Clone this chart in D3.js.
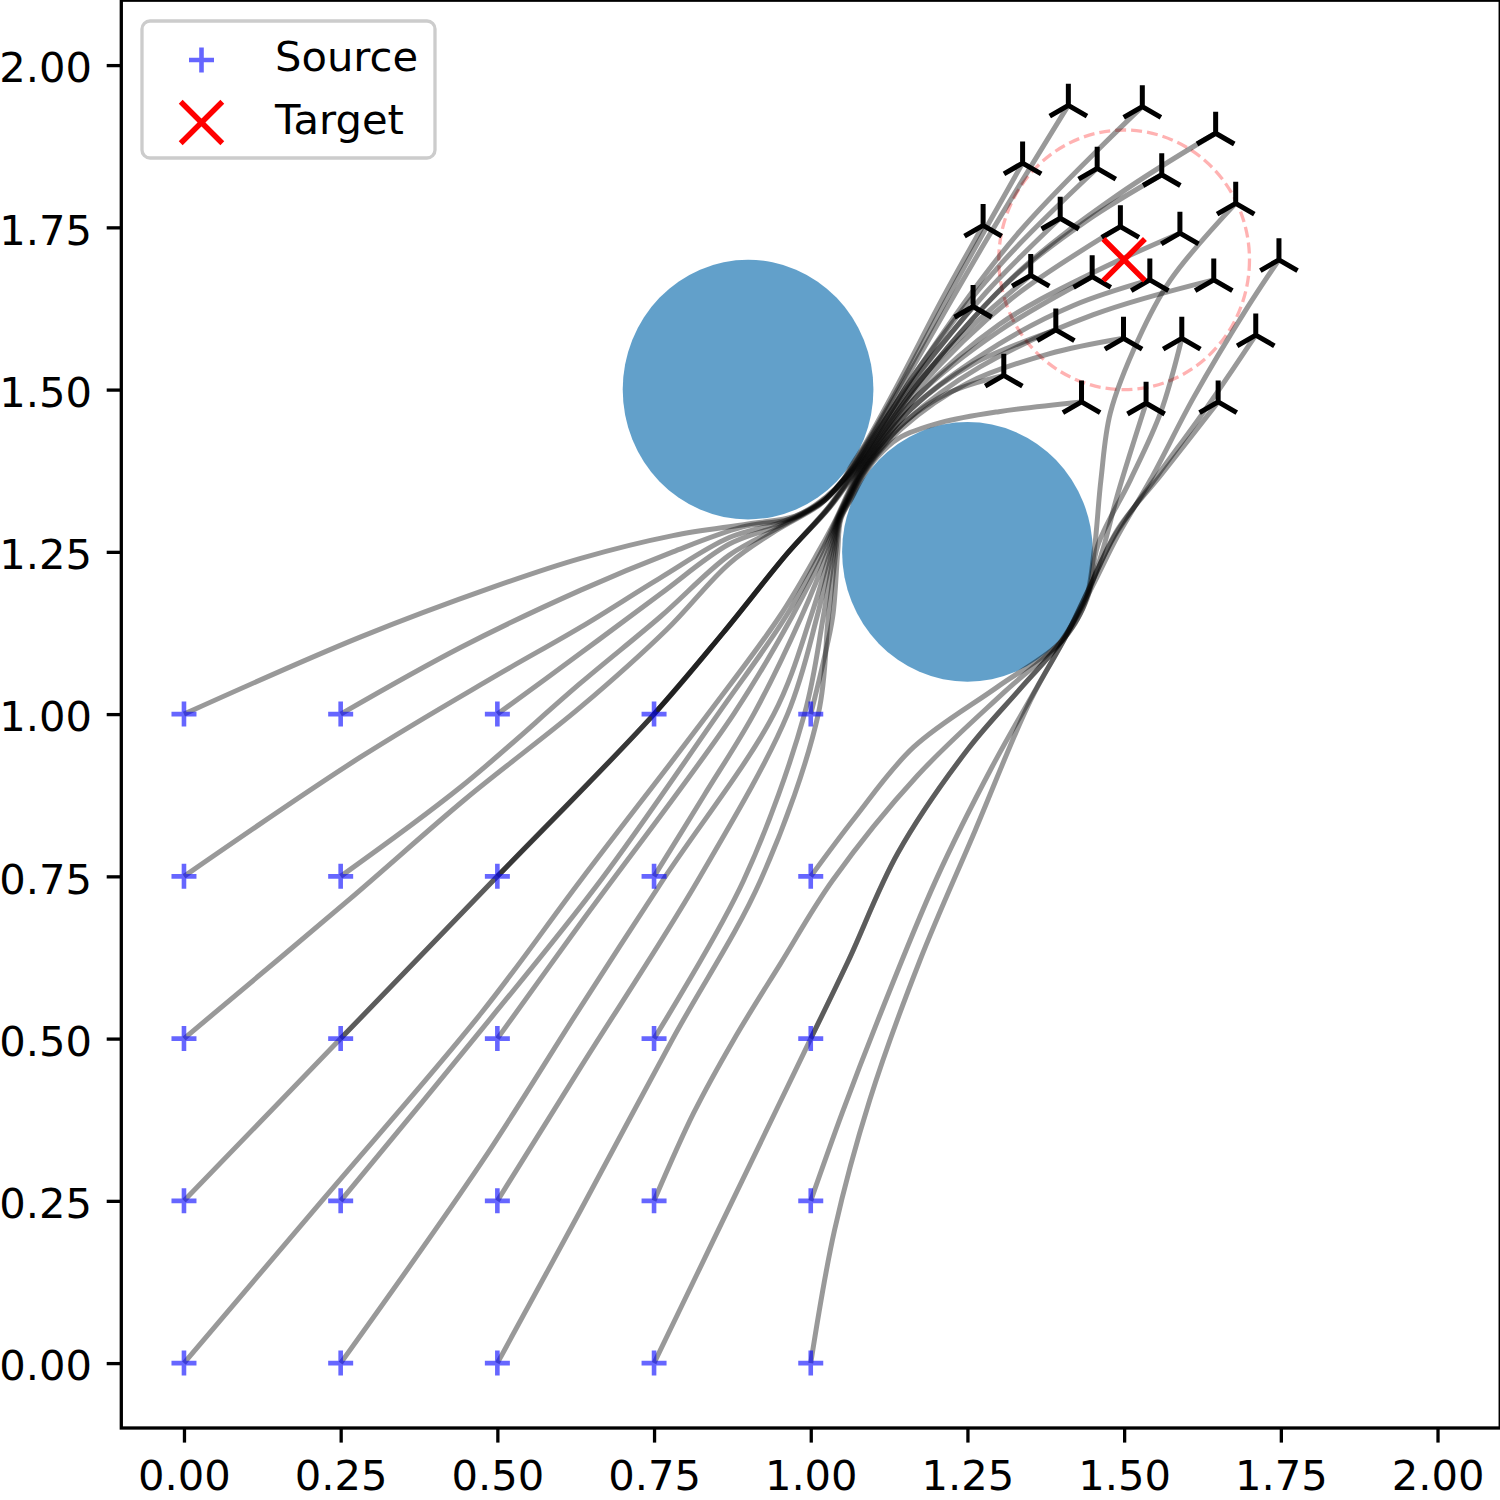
<!DOCTYPE html>
<html>
<head>
<meta charset="utf-8">
<script src="https://cdn.jsdelivr.net/npm/d3@7"></script>
<style>
  html, body { margin: 0; padding: 0; background: #fff; }
  svg { display: block; }
</style>
</head>
<body>
<div id="chart"></div>
<script>
// tick values used on both axes
const tickValues = [0, 0.25, 0.5, 0.75, 1, 1.25, 1.5, 1.75, 2];

// obstacles: centres and radii
const obstacleX = [0.9, 1.25];
const obstacleY = [1.5, 1.25];
const obstacleR = [0.2, 0.2];

// target point and the dashed tolerance circle
const targetPoint = [1.5, 1.7];
const targetRadius = 0.2;

// source grid
const sourceGridX = [0, 0.25, 0.5, 0.75, 1];
const sourceGridY = [0, 0.25, 0.5, 0.75, 1];

// trajectories, [x, y] waypoints from source to end point
// sources that pass under the first obstacle, then through the gap
const upperPaths = [
  [[0, 1], [0.282, 1.119], [0.494, 1.196], [0.633, 1.240], [0.78, 1.275], [0.90, 1.293], [0.975, 1.305], [1.025, 1.335], [1.052, 1.362], [1.065, 1.383], [1.086, 1.415], [1.14, 1.51], [1.21, 1.64], [1.275, 1.753]],
  [[0.25, 1], [0.442, 1.103], [0.633, 1.191], [0.78, 1.25], [0.89, 1.288], [0.975, 1.303], [1.025, 1.334], [1.052, 1.361], [1.066, 1.382], [1.087, 1.414], [1.15, 1.52], [1.24, 1.68], [1.338, 1.849]],
  [[0, 0.75], [0.282, 0.934], [0.494, 1.057], [0.633, 1.134], [0.76, 1.21], [0.87, 1.272], [0.96, 1.298], [1.022, 1.330], [1.051, 1.360], [1.067, 1.381], [1.088, 1.413], [1.16, 1.53], [1.28, 1.73], [1.411, 1.938]],
  [[0.5, 1], [0.633, 1.094], [0.76, 1.185], [0.87, 1.262], [0.955, 1.293], [1.02, 1.328], [1.050, 1.358], [1.068, 1.381], [1.089, 1.412], [1.16, 1.51], [1.259, 1.628]],
  [[0.25, 0.75], [0.442, 0.888], [0.633, 1.048], [0.76, 1.15], [0.87, 1.245], [0.95, 1.288], [1.018, 1.326], [1.049, 1.357], [1.069, 1.380], [1.091, 1.411], [1.17, 1.53], [1.33, 1.74], [1.529, 1.936]],
  [[0, 0.5], [0.262, 0.713], [0.450, 0.870], [0.633, 1.011], [0.77, 1.13], [0.87, 1.232], [0.945, 1.283], [1.015, 1.323], [1.048, 1.355], [1.070, 1.379], [1.092, 1.410], [1.17, 1.53], [1.30, 1.69], [1.457, 1.841]]
];

// sources on the dark diagonal straight into the gap
const diagonalPaths = [
  [[0, 0.25], [0.25, 0.5], [0.5, 0.75], [0.75, 1.0], [0.86, 1.125], [0.963, 1.248], [1.03, 1.318], [1.074, 1.376], [1.096, 1.406], [1.18, 1.52], [1.33, 1.68], [1.49, 1.80], [1.646, 1.895]],
  [[0.25, 0.5], [0.5, 0.75], [0.75, 1.0], [0.86, 1.125], [0.963, 1.248], [1.03, 1.319], [1.073, 1.377], [1.095, 1.407], [1.18, 1.52], [1.32, 1.67], [1.44, 1.76], [1.560, 1.831]],
  [[0.5, 0.75], [0.75, 1.0], [0.86, 1.125], [0.963, 1.248], [1.03, 1.320], [1.072, 1.377], [1.094, 1.408], [1.17, 1.51], [1.26, 1.60], [1.351, 1.676]],
  [[0.75, 1.0], [0.86, 1.125], [0.963, 1.248], [1.03, 1.321], [1.071, 1.378], [1.093, 1.409], [1.17, 1.52], [1.28, 1.65], [1.398, 1.764]]
];

// sources that climb along the left side of the second obstacle
const lowerPaths = [
  [[0, 0], [0.22, 0.25], [0.474, 0.539], [0.633, 0.744], [0.836, 1.0], [0.95, 1.15], [1.012, 1.25], [1.040, 1.30], [1.058, 1.338], [1.076, 1.374], [1.097, 1.404], [1.17, 1.50], [1.32, 1.64], [1.494, 1.751]],
  [[0.25, 0.25], [0.474, 0.513], [0.665, 0.744], [0.852, 1.0], [0.96, 1.15], [1.017, 1.25], [1.041, 1.30], [1.059, 1.337], [1.077, 1.373], [1.098, 1.403], [1.17, 1.49], [1.30, 1.59], [1.449, 1.674]],
  [[0.5, 0.5], [0.633, 0.678], [0.877, 1.0], [0.97, 1.15], [1.022, 1.25], [1.042, 1.30], [1.060, 1.337], [1.078, 1.372], [1.099, 1.402], [1.17, 1.49], [1.30, 1.60], [1.45, 1.68], [1.589, 1.741]],
  [[0.75, 0.75], [0.83, 0.875], [0.909, 1.0], [0.985, 1.15], [1.027, 1.25], [1.043, 1.30], [1.061, 1.336], [1.079, 1.372], [1.100, 1.401], [1.16, 1.47], [1.26, 1.54], [1.391, 1.592]],
  [[0.25, 0], [0.474, 0.308], [0.633, 0.549], [0.764, 0.744], [0.941, 1.0], [1.0, 1.15], [1.031, 1.25], [1.044, 1.30], [1.062, 1.336], [1.080, 1.371], [1.101, 1.400], [1.16, 1.47], [1.30, 1.57], [1.42, 1.63], [1.541, 1.669]],
  [[0.5, 0.25], [0.633, 0.456], [0.820, 0.744], [0.963, 1.0], [1.01, 1.15], [1.034, 1.25], [1.045, 1.30], [1.063, 1.335], [1.081, 1.370], [1.102, 1.399], [1.15, 1.45], [1.22, 1.495], [1.308, 1.522]],
  [[0.75, 0.5], [0.893, 0.744], [0.990, 1.0], [1.02, 1.15], [1.037, 1.25], [1.046, 1.30], [1.064, 1.335], [1.082, 1.369], [1.103, 1.398], [1.15, 1.45], [1.27, 1.535], [1.45, 1.615], [1.643, 1.669]],
  [[0.5, 0], [0.633, 0.236], [0.78, 0.50], [0.920, 0.744], [1.012, 1.0], [1.028, 1.15], [1.040, 1.25], [1.047, 1.30], [1.065, 1.334], [1.083, 1.368], [1.104, 1.397], [1.145, 1.44], [1.25, 1.51], [1.38, 1.555], [1.499, 1.579]],
  [[1, 1], [1.02, 1.08], [1.035, 1.15], [1.043, 1.25], [1.048, 1.30], [1.066, 1.334], [1.084, 1.367], [1.105, 1.395], [1.14, 1.425], [1.207, 1.449], [1.30, 1.466], [1.432, 1.481]]
];

// sources that go round the right side of the second obstacle
const rightPaths = [
  [[1, 0.75], [1.07, 0.84], [1.164, 0.949], [1.298, 1.042], [1.400, 1.112], [1.437, 1.17], [1.452, 1.25], [1.463, 1.361], [1.478, 1.464], [1.522, 1.576], [1.574, 1.669], [1.678, 1.787]],
  [[0.75, 0.25], [0.813, 0.385], [0.877, 0.498], [0.952, 0.616], [1.035, 0.744], [1.17, 0.905], [1.31, 1.035], [1.405, 1.118], [1.441, 1.178], [1.458, 1.26], [1.510, 1.361], [1.558, 1.464], [1.592, 1.579]],
  [[1, 0.5], [1.06, 0.62], [1.139, 0.786], [1.25, 0.945], [1.335, 1.04], [1.40, 1.112], [1.44, 1.18], [1.465, 1.25], [1.49, 1.34], [1.535, 1.479]],
  [[0.75, 0], [0.82, 0.14], [0.89, 0.28], [0.95, 0.40], [1.0, 0.5], [1.06, 0.62], [1.139, 0.786], [1.25, 0.945], [1.335, 1.04], [1.40, 1.113], [1.443, 1.185], [1.49, 1.275], [1.542, 1.361], [1.611, 1.488], [1.697, 1.627], [1.747, 1.700]],
  [[1, 0.25], [1.05, 0.385], [1.107, 0.528], [1.20, 0.745], [1.29, 0.92], [1.36, 1.04], [1.407, 1.12], [1.442, 1.19], [1.485, 1.275], [1.555, 1.37], [1.63, 1.47], [1.710, 1.584]],
  [[1, 0], [1.038, 0.205], [1.094, 0.405], [1.174, 0.62], [1.262, 0.82], [1.35, 1.02], [1.41, 1.125], [1.445, 1.195], [1.49, 1.285], [1.56, 1.37], [1.650, 1.481]]
];

const legendLabels = ['Source', 'Target'];

// ---------------------------------------------------------------------------

const width = 1500, height = 1500;
const fontFamily = '"DejaVu Sans", Verdana, sans-serif';
const fontSize = 41.67;

const svg = d3.select('#chart')
  .append('svg')
  .attr('width', width)
  .attr('height', height);

const x = d3.scaleLinear().domain([-0.1, 2.1]).range([121.3, 1500.2]);
const y = d3.scaleLinear().domain([-0.1, 2.1]).range([1428, 0.2]);

const plot = svg.append('g');

// obstacles
plot.selectAll('ellipse.obstacle')
  .data(d3.range(obstacleX.length))
  .join('ellipse')
  .attr('class', 'obstacle')
  .attr('cx', i => x(obstacleX[i]))
  .attr('cy', i => y(obstacleY[i]))
  .attr('rx', i => x(obstacleR[i]) - x(0))
  .attr('ry', i => y(0) - y(obstacleR[i]))
  .attr('fill', '#1f77b4')
  .attr('fill-opacity', 0.7);

// dashed target circle
plot.append('ellipse')
  .attr('cx', x(targetPoint[0]))
  .attr('cy', y(targetPoint[1]))
  .attr('rx', x(targetRadius) - x(0))
  .attr('ry', y(0) - y(targetRadius))
  .attr('fill', 'none')
  .attr('stroke', 'red')
  .attr('stroke-opacity', 0.3)
  .attr('stroke-width', 3.3)
  .attr('stroke-dasharray', '11,5');

// trajectories
const allPaths = upperPaths.concat(diagonalPaths, lowerPaths, rightPaths);

const line = d3.line()
  .x(d => x(d[0]))
  .y(d => y(d[1]))
  .curve(d3.curveCatmullRom.alpha(0.5));

plot.selectAll('path.traj')
  .data(allPaths)
  .join('path')
  .attr('class', 'traj')
  .attr('d', line)
  .attr('fill', 'none')
  .attr('stroke', '#000')
  .attr('stroke-opacity', 0.4)
  .attr('stroke-width', 5)
  .attr('stroke-linecap', 'butt');

// source markers (+)
const sources = [];
for (const sy of sourceGridY) {
  for (const sx of sourceGridX) {
    sources.push([sx, sy]);
  }
}

const plusPath = a => `M${-a},0H${a}M0,${-a}V${a}`;

plot.selectAll('path.source')
  .data(sources)
  .join('path')
  .attr('class', 'source')
  .attr('transform', d => `translate(${x(d[0])},${y(d[1])})`)
  .attr('d', plusPath(12.5))
  .attr('fill', 'none')
  .attr('stroke', 'blue')
  .attr('stroke-width', 4.6)
  .attr('opacity', 0.6);

// end point markers (tri_up)
const triUp = a => `M0,0V${-a}M0,0L${-0.866 * a},${0.5 * a}M0,0L${0.866 * a},${0.5 * a}`;

plot.selectAll('path.endpoint')
  .data(allPaths.map(p => p[p.length - 1]))
  .join('path')
  .attr('class', 'endpoint')
  .attr('transform', d => `translate(${x(d[0])},${y(d[1])})`)
  .attr('d', triUp(21.5))
  .attr('fill', 'none')
  .attr('stroke', '#000')
  .attr('stroke-width', 5)
  .attr('stroke-linecap', 'butt');

// target marker (x)
const crossPath = a => `M${-a},${-a}L${a},${a}M${-a},${a}L${a},${-a}`;

plot.append('path')
  .attr('transform', `translate(${x(targetPoint[0])},${y(targetPoint[1])})`)
  .attr('d', crossPath(20.8))
  .attr('fill', 'none')
  .attr('stroke', 'red')
  .attr('stroke-width', 5.5);

// axes
const xAxis = d3.axisBottom(x)
  .tickValues(tickValues)
  .tickFormat(d3.format('.2f'))
  .tickSize(14.6)
  .tickPadding(14.6);

const yAxis = d3.axisLeft(y)
  .tickValues(tickValues)
  .tickFormat(d3.format('.2f'))
  .tickSize(14.6)
  .tickPadding(14.6);

const gx = svg.append('g')
  .attr('transform', `translate(0,${y(-0.1)})`)
  .call(xAxis);

const gy = svg.append('g')
  .attr('transform', `translate(${x(-0.1)},0)`)
  .call(yAxis);

for (const g of [gx, gy]) {
  g.select('.domain').remove();
  g.selectAll('.tick line').attr('stroke', '#000').attr('stroke-width', 3.3);
  g.selectAll('.tick text')
    .attr('fill', '#000')
    .style('font-family', fontFamily)
    .style('font-size', fontSize + 'px');
}
gx.selectAll('.tick text').attr('dy', '0.787em');
gy.selectAll('.tick text').attr('dy', '0.40em');

// spines
svg.append('rect')
  .attr('x', x(-0.1))
  .attr('y', y(2.1))
  .attr('width', x(2.1) - x(-0.1))
  .attr('height', y(-0.1) - y(2.1))
  .attr('fill', 'none')
  .attr('stroke', '#000')
  .attr('stroke-width', 3.3);

// legend
const legend = svg.append('g');

legend.append('rect')
  .attr('x', 142)
  .attr('y', 21)
  .attr('width', 293)
  .attr('height', 137)
  .attr('rx', 8)
  .attr('fill', '#fff')
  .attr('fill-opacity', 0.8)
  .attr('stroke', '#cccccc')
  .attr('stroke-width', 3.3);

legend.append('path')
  .attr('transform', 'translate(201.5,60)')
  .attr('d', plusPath(12.5))
  .attr('fill', 'none')
  .attr('stroke', 'blue')
  .attr('stroke-width', 4.6)
  .attr('opacity', 0.6);

legend.append('path')
  .attr('transform', 'translate(201.5,122.5)')
  .attr('d', crossPath(20.8))
  .attr('fill', 'none')
  .attr('stroke', 'red')
  .attr('stroke-width', 5.5);

legend.selectAll('text')
  .data(legendLabels)
  .join('text')
  .attr('x', 275)
  .attr('y', (d, i) => 71 + i * 62.5)
  .text(d => d)
  .attr('fill', '#000')
  .style('font-family', fontFamily)
  .style('font-size', fontSize + 'px');
</script>
</body>
</html>
